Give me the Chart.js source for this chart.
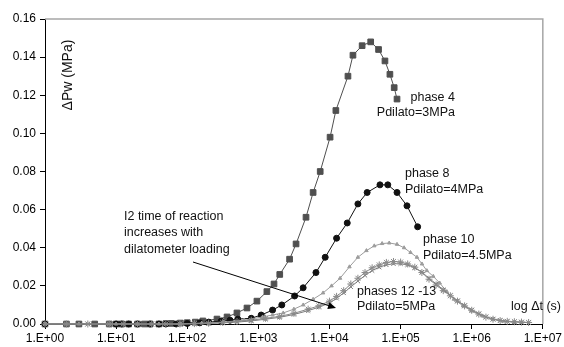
<!DOCTYPE html>
<html>
<head>
<meta charset="utf-8">
<script src="https://cdn.jsdelivr.net/npm/chart.js@4"></script>
<style>
  html, body { margin: 0; padding: 0; background: #fff; }
  canvas { display: block; }
</style>
</head>
<body>
<canvas id="pwChart" width="564" height="347"></canvas>
<script>
// time (s) and excess pore pressure (MPa)
const phase4Times = [1, 2, 3, 5, 8, 10, 12, 15, 20, 25, 30, 40, 50, 60, 80, 100, 130, 166, 262, 363, 500, 692, 955, 1318, 1660, 2000, 2750, 3390, 4680, 5890, 7410, 10200, 12300, 18200, 21400, 28800, 38000, 49000, 60300, 70800, 81300, 89100];
const phase4Values = [0, 0, 0, 0, 0, 0, 0, 0, 0, 0, 0, 0, 0.0002, 0.0003, 0.0005, 0.0007, 0.001, 0.0016, 0.0026, 0.0037, 0.0058, 0.0084, 0.012, 0.017, 0.021, 0.026, 0.034, 0.042, 0.056, 0.069, 0.080, 0.098, 0.112, 0.130, 0.141, 0.146, 0.148, 0.144, 0.138, 0.131, 0.124, 0.118];

const phase8Times = [1, 10, 12, 15, 20, 30, 40, 50, 70, 100, 150, 200, 300, 400, 513, 794, 1096, 1585, 2138, 3236, 4266, 6457, 8710, 12590, 17780, 25120, 33880, 51290, 66070, 89130, 123000, 173800];
const phase8Values = [0, 0, 0, 0, 0, 0, 0, 0, 0, 0.0003, 0.0006, 0.001, 0.0015, 0.002, 0.0026, 0.003, 0.0047, 0.0073, 0.010, 0.0147, 0.019, 0.027, 0.035, 0.045, 0.053, 0.063, 0.069, 0.073, 0.073, 0.069, 0.062, 0.051];

const phase10Times = [1, 3, 10, 20, 40, 80, 160, 320, 630, 1150, 1580, 2240, 3160, 4270, 5890, 8130, 10700, 14100, 19100, 25100, 33100, 42700, 55000, 69200, 89100, 112000, 138000, 170000, 200000, 234000, 288000, 355000, 447000, 562000, 759000, 1000000, 1410000, 2000000, 2820000, 3980000];
const phase10Values = [0, 0, 0, 0, 0, 0, 0.0005, 0.001, 0.002, 0.0037, 0.0047, 0.0058, 0.0078, 0.010, 0.013, 0.0163, 0.020, 0.024, 0.030, 0.035, 0.0385, 0.041, 0.0422, 0.0425, 0.0418, 0.040, 0.0375, 0.035, 0.0315, 0.028, 0.025, 0.0215, 0.017, 0.013, 0.0095, 0.0068, 0.0042, 0.0025, 0.0015, 0.0008];

const phase1213Times = [1, 2, 4, 8, 12.6, 20, 31.6, 50, 79, 126, 200, 316, 501, 794, 1259, 1995, 3162, 5012, 7079, 10000, 12590, 15850, 19950, 25120, 31620, 39810, 50120, 63100, 79430, 100000, 125900, 158500, 199500, 251200, 316200, 398100, 501200, 631000, 794300, 1000000, 1259000, 1585000, 1995000, 2512000, 3162000, 3981000, 5012000, 6310000];
const phase12Values = [0, 0, 0, 0, 0, 0, 0, 0, 0, 0.0002, 0.0004, 0.0008, 0.0013, 0.002, 0.003, 0.004, 0.0056, 0.0078, 0.0095, 0.012, 0.0145, 0.0175, 0.021, 0.024, 0.027, 0.0295, 0.031, 0.0323, 0.0328, 0.0325, 0.0315, 0.0298, 0.027, 0.0235, 0.0205, 0.0175, 0.0148, 0.012, 0.0095, 0.0072, 0.0052, 0.0036, 0.0025, 0.0018, 0.0014, 0.0012, 0.001, 0.0008];
const phase13Values = [0, 0, 0, 0, 0, 0, 0, 0, 0, 0.0001, 0.0003, 0.0006, 0.001, 0.0016, 0.0025, 0.0035, 0.005, 0.007, 0.0088, 0.011, 0.0135, 0.0163, 0.0195, 0.0225, 0.0255, 0.028, 0.0298, 0.031, 0.0316, 0.0316, 0.031, 0.0295, 0.0272, 0.024, 0.021, 0.018, 0.015, 0.0122, 0.0097, 0.0074, 0.0054, 0.0038, 0.0026, 0.0019, 0.0014, 0.0011, 0.0009, 0.0007];

const xTicks = [1, 10, 100, 1000, 10000, 100000, 1000000, 10000000];
const yTicks = [0, 0.02, 0.04, 0.06, 0.08, 0.10, 0.12, 0.14, 0.16];

const FONT = '"Liberation Sans", Arial, sans-serif';

function pairs(times, values) {
    return times.map((t, i) => ({ x: t, y: values[i] }));
}

const notes = [
    { text: 'phase 4', x: 455, y: 98, align: 'right' },
    { text: 'Pdilato=3MPa', x: 455, y: 113, align: 'right' },
    { text: 'phase 8', x: 405, y: 174, align: 'left' },
    { text: 'Pdilato=4MPa', x: 405, y: 190, align: 'left' },
    { text: 'phase 10', x: 423, y: 240, align: 'left' },
    { text: 'Pdilato=4.5MPa', x: 423, y: 256, align: 'left' },
    { text: 'phases 12 -13', x: 357, y: 292, align: 'left' },
    { text: 'Pdilato=5MPa', x: 357, y: 307, align: 'left' },
    { text: 'I2 time of reaction', x: 124, y: 217, align: 'left' },
    { text: 'increases with', x: 124, y: 233, align: 'left' },
    { text: 'dilatometer loading', x: 124, y: 250, align: 'left' },
    { text: 'log \u0394t (s)', x: 511, y: 307, align: 'left' }
];

const decorPlugin = {
    id: 'decor',
    beforeDatasetsDraw(chart) {
        const { ctx, chartArea } = chart;
        ctx.save();
        ctx.strokeStyle = '#a6a6a6';
        ctx.lineWidth = 1.5;
        ctx.beginPath();
        ctx.moveTo(chartArea.left, chartArea.top);
        ctx.lineTo(chartArea.right, chartArea.top);
        ctx.lineTo(chartArea.right, chartArea.bottom);
        ctx.stroke();
        ctx.restore();
    },
    afterDatasetsDraw(chart) {
        const ctx = chart.ctx;
        ctx.save();
        ctx.fillStyle = '#111';
        ctx.font = '12.5px ' + FONT;
        ctx.textBaseline = 'middle';
        notes.forEach(n => {
            ctx.textAlign = n.align;
            ctx.fillText(n.text, n.x, n.y);
        });

        // y axis title inside the plot
        ctx.save();
        ctx.translate(68, 75);
        ctx.rotate(-Math.PI / 2);
        ctx.textAlign = 'center';
        ctx.font = '14px ' + FONT;
        ctx.fillText('\u0394Pw (MPa)', 0, 0);
        ctx.restore();

        // arrow
        const x0 = 193, y0 = 262, x1 = 336, y1 = 308;
        const ang = Math.atan2(y1 - y0, x1 - x0);
        ctx.strokeStyle = '#000';
        ctx.lineWidth = 1;
        ctx.beginPath();
        ctx.moveTo(x0, y0);
        ctx.lineTo(x1 - 6 * Math.cos(ang), y1 - 6 * Math.sin(ang));
        ctx.stroke();
        ctx.beginPath();
        ctx.moveTo(x1, y1);
        ctx.lineTo(x1 - 8 * Math.cos(ang) + 3.5 * Math.sin(ang), y1 - 8 * Math.sin(ang) - 3.5 * Math.cos(ang));
        ctx.lineTo(x1 - 8 * Math.cos(ang) - 3.5 * Math.sin(ang), y1 - 8 * Math.sin(ang) + 3.5 * Math.cos(ang));
        ctx.closePath();
        ctx.fillStyle = '#000';
        ctx.fill();
        ctx.restore();
    }
};

function series(label, times, values, color, style, radius) {
    return {
        label: label,
        data: pairs(times, values),
        borderColor: color,
        backgroundColor: color,
        pointBackgroundColor: color,
        pointBorderColor: color,
        pointStyle: style,
        pointRadius: radius,
        pointBorderWidth: 1,
        borderWidth: 1,
        tension: 0,
        clip: false
    };
}

const ctx = document.getElementById('pwChart').getContext('2d');
const pwChart = new Chart(ctx, {
    type: 'line',
    data: {
        datasets: [
            series('phase 12', phase1213Times, phase12Values, '#8a8a8a', 'star', 3.5),
            series('phase 13', phase1213Times, phase13Values, '#7a7a7a', 'crossRot', 3),
            series('phase 10', phase10Times, phase10Values, '#9c9c9c', 'triangle', 2),
            series('phase 8', phase8Times, phase8Values, '#111111', 'circle', 3),
            series('phase 4', phase4Times, phase4Values, '#4f4f4f', 'rect', 4)
        ]
    },
    options: {
        responsive: false,
        animation: false,
        layout: { padding: { top: 19, right: 21, left: 0, bottom: 0 } },
        plugins: {
            legend: { display: false },
            tooltip: { enabled: false }
        },
        scales: {
            x: {
                type: 'logarithmic',
                min: 1,
                max: 10000000,
                afterBuildTicks: scale => { scale.ticks = xTicks.map(v => ({ value: v })); },
                afterFit: scale => { scale.height = 23; },
                ticks: {
                    color: '#000',
                    font: { family: FONT, size: 12 },
                    maxRotation: 0,
                    autoSkip: false,
                    padding: 2,
                    callback: v => '1.E+' + String(Math.round(Math.log10(v))).padStart(2, '0')
                },
                grid: { drawOnChartArea: false, drawTicks: true, tickLength: 5, color: '#000' },
                border: { color: '#000', width: 1 }
            },
            y: {
                min: 0,
                max: 0.16,
                afterBuildTicks: scale => { scale.ticks = yTicks.map(v => ({ value: v })); },
                afterFit: scale => { scale.width = 45; },
                ticks: {
                    color: '#000',
                    font: { family: FONT, size: 12 },
                    padding: 4,
                    callback: v => v.toFixed(2)
                },
                grid: { drawOnChartArea: false, drawTicks: true, tickLength: 5, color: '#000' },
                border: { color: '#000', width: 1 }
            }
        }
    },
    plugins: [decorPlugin]
});
</script>
</body>
</html>
